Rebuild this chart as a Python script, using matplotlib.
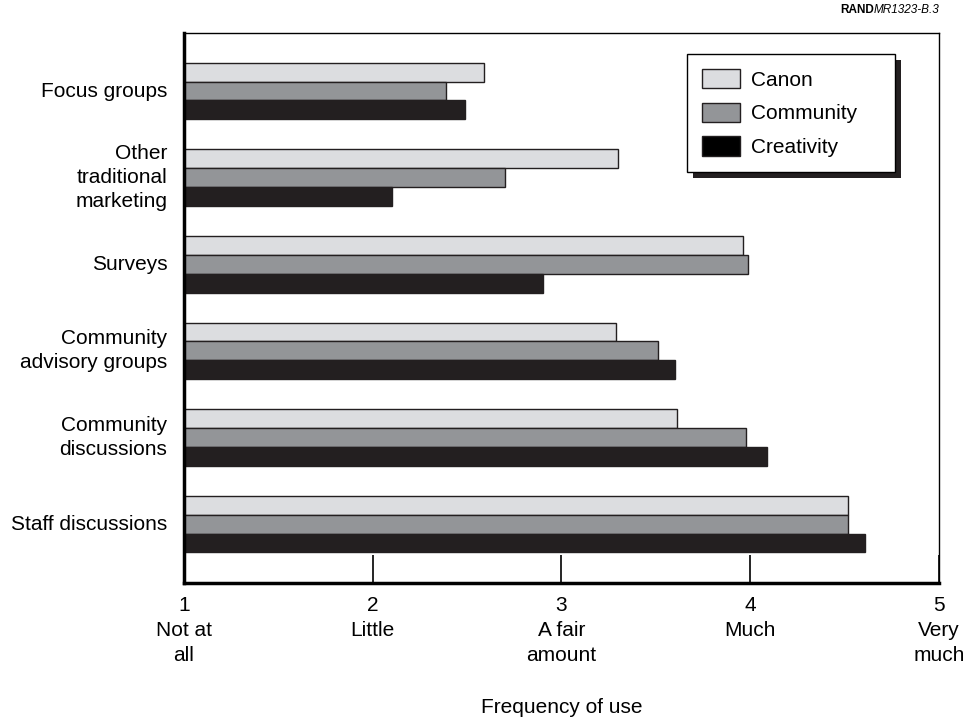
import numpy as np
import matplotlib
matplotlib.use('Agg')
import matplotlib.pyplot as plt
from matplotlib.patches import Rectangle

plt.rcParams['font.family'] = ['Liberation Sans', 'DejaVu Sans']

categories = ['Focus groups', 'Other\ntraditional\nmarketing', 'Surveys',
              'Community\nadvisory groups', 'Community\ndiscussions',
              'Staff discussions']
series = ['Canon', 'Community', 'Creativity']
canon = [2.59, 3.30, 3.96, 3.29, 3.61, 4.52]
community = [2.39, 2.70, 3.99, 3.51, 3.98, 4.52]
creativity = [2.49, 2.10, 2.90, 3.60, 4.09, 4.61]
tick_values = [1, 2, 3, 4, 5]
tick_labels = ['1\nNot at\nall', '2\nLittle', '3\nA fair\namount', '4\nMuch', '5\nVery\nmuch']

colors = ['#dcdde0', '#939598', '#231f20']
edge = '#231f20'
fs = 15

fig = plt.figure(figsize=(9.67, 7.21), dpi=100)
ax = fig.add_axes([0.1903, 0.1914, 0.7807, 0.7628])

y = np.arange(len(categories))
h = 0.218
for i, vals in enumerate([canon, community, creativity]):
    ax.barh(y + (i - 1) * h, np.array(vals) - 1, left=1, height=h,
            color=colors[i], edgecolor=edge, linewidth=1.0, label=series[i])

ax.set_xlim(1, 5)
ax.set_ylim(len(categories) - 1 + 0.68, -0.67)
ax.set_yticks(y)
ax.set_yticklabels(categories, fontsize=fs, linespacing=1.34)
for lbl in ax.get_yticklabels():
    lbl.set_verticalalignment('center')
ax.tick_params(axis='y', length=0, pad=12)
ax.set_xticks(tick_values)
ax.set_xticklabels(tick_labels, fontsize=fs, linespacing=1.42)
ax.tick_params(axis='x', direction='in', length=20, width=1.2, pad=9)
ax.set_xlabel('Frequency of use', fontsize=fs, labelpad=24)

for s in ['left', 'bottom']:
    ax.spines[s].set_linewidth(2.5)
for s in ['top', 'right']:
    ax.spines[s].set_linewidth(1.0)

handles, labels = ax.get_legend_handles_labels()
labels = [l + '    ' for l in labels]
leg = ax.legend(handles, labels, loc='upper left', bbox_to_anchor=(0.666, 0.962),
                borderaxespad=0, fontsize=fs, frameon=True, fancybox=False,
                edgecolor='black', framealpha=1, handlelength=1.85,
                handleheight=1.05, labelspacing=0.62, borderpad=0.72,
                handletextpad=0.5)
leg.get_frame().set_linewidth(1.0)
leg.set_zorder(5)
for p in leg.get_patches():
    p.set_edgecolor(edge)
leg.get_patches()[2].set_facecolor('black')

fig.canvas.draw()
bb = leg.get_window_extent().transformed(ax.transAxes.inverted())
off_x = 6 / (ax.bbox.width)
off_y = 6 / (ax.bbox.height)
ax.add_patch(Rectangle((bb.x0 + off_x, bb.y0 - off_y), bb.width, bb.height,
                       transform=ax.transAxes, facecolor='#231f20',
                       edgecolor='none', zorder=4, clip_on=False))

fig.text(0.9715, 0.978, 'RAND', fontsize=8.5, fontweight='bold', ha='right', va='bottom',
         color='white')
t1 = fig.text(0.9715, 0.978, 'MR1323-B.3', fontsize=8.5, style='italic', ha='right', va='bottom')
fig.canvas.draw()
w = t1.get_window_extent().width / fig.bbox.width
fig.texts[0].set_position((0.9715 - w, 0.978))
fig.texts[0].set_color('black')

fig.savefig('out.png', dpi=100)
